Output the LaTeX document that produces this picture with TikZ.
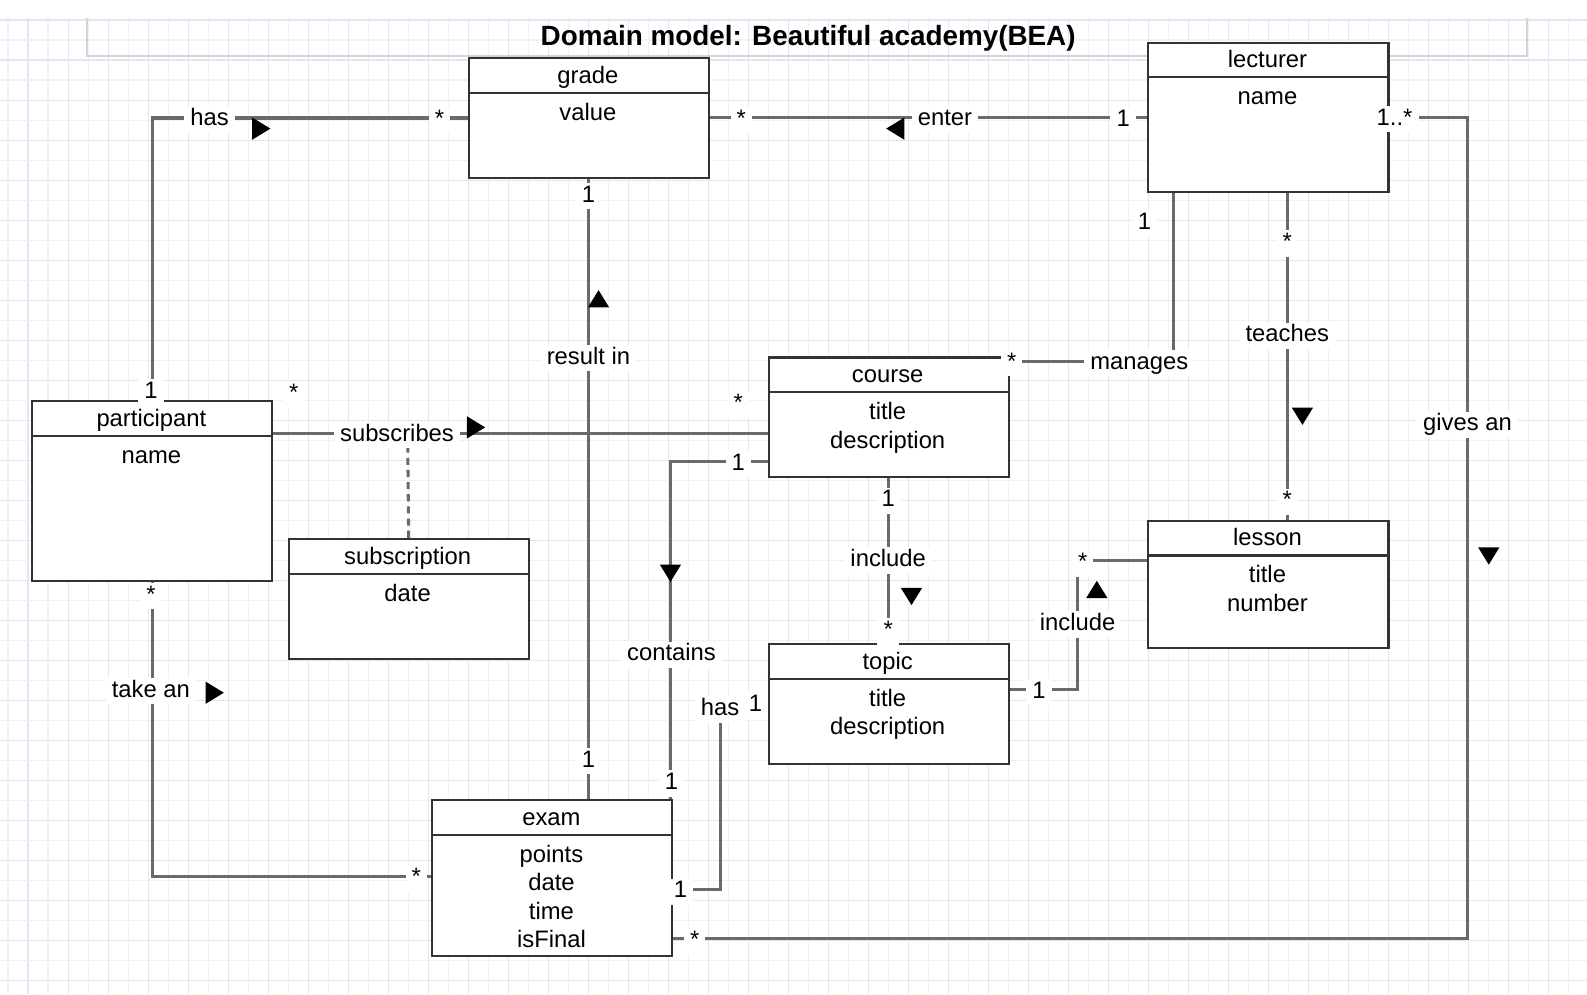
\documentclass[tikz,border=0pt]{standalone}
\usepackage{fontspec}
\setmainfont{Liberation Sans}
\definecolor{boxc}{HTML}{333333}
\definecolor{connc}{HTML}{6A6A6A}
\definecolor{gridA}{HTML}{F1F0FA}
\definecolor{gridB}{HTML}{E6E4F4}
\definecolor{framec}{HTML}{D4D4D4}
\newcommand{\mainfs}{\fontsize{23.5}{28}\selectfont}
\newcommand{\titlefs}{\fontsize{27.5}{32}\selectfont\bfseries}
\newcommand{\umlbox}[6]{%
  \node[clsbox, minimum height=#4, anchor=north west] (#1) at (#2,#3) {};
  \draw[clsline] (#2,{#3+35.5}) -- ({#2+237},{#3+35.5});
  \node[clstext, anchor=base] (#1-name) at ({#2+118.5},{#3+26}) {#5};
  \foreach \attr [count=\idx] in {#6} {
    \node[clstext, anchor=base] (#1-a\idx) at ({#2+118.5},{#3+35.5+27+28*(\idx-1)}) {\attr};
  }
}
\newcommand{\tridn}[2]{\fill[tri] ({#1-10.5},{#2-8.5}) -- ({#1+10.5},{#2-8.5}) -- (#1,{#2+8.5}) -- cycle;}
\newcommand{\triup}[2]{\fill[tri] ({#1-10.5},{#2+8.5}) -- ({#1+10.5},{#2+8.5}) -- (#1,{#2-8.5}) -- cycle;}
\newcommand{\trirt}[2]{\fill[tri] ({#1-9},{#2-11}) -- ({#1-9},{#2+11}) -- ({#1+9},#2) -- cycle;}
\newcommand{\trilt}[2]{\fill[tri] ({#1+9},{#2-11}) -- ({#1+9},{#2+11}) -- ({#1-9},#2) -- cycle;}
\begin{document}
\begin{tikzpicture}[x=1pt,y=-1pt,
  clsbox/.style={draw=boxc, line width=2, fill=white, inner sep=0, minimum width=237},
  clsline/.style={draw=boxc, line width=2},
  clstext/.style={font=\mainfs, inner sep=0, text=black},
  conn/.style={draw=connc, line width=3},
  assocdash/.style={draw=connc, line width=3, dash pattern=on 7pt off 5pt},
  lbl/.style={fill=white, font=\mainfs, text=black, inner xsep=6, inner ysep=2, text height=17, text depth=5, yshift=-1.5pt},
  star/.style={lbl, yshift=-4pt},
  one/.style={lbl, yshift=-1pt},
  tri/.style={fill=black},
  gridmin/.style={draw=gridA, line width=1},
  gridmaj/.style={draw=gridB, line width=1},
  frame/.style={draw=framec, line width=2}]
\useasboundingbox (0,0) rectangle (1567,981.5);
\fill[white] (0,0) rectangle (1567,981.5);
% grid
\foreach \i in {0,2,...,78} \draw[gridmin] ({7.9+19.75*\i},17.8) -- ({7.9+19.75*\i},981.5);
\foreach \i in {1,3,...,79} \draw[gridmaj] ({7.9+19.75*\i},17.8) -- ({7.9+19.75*\i},981.5);
\foreach \k in {2,4,...,48} \draw[gridmin] (0,{19.75*\k}) -- (1567,{19.75*\k});
\foreach \k in {1,3,...,49} \draw[gridmaj] (0,{19.75*\k}) -- (1567,{19.75*\k});
% title frame
\draw[frame] (86,17.8) -- (86,55.3) -- (1508,55.3) -- (1508,17.8);
\node[font=\titlefs, inner sep=0, anchor=base] (title) at (798,45) {Domain model: Beautiful academy(BEA)};
% classes
\umlbox{grade}{462}{56}{119}{grade}{value}
\umlbox{lecturer}{1133}{41}{148}{lecturer}{name}
\umlbox{participant}{31}{395}{178}{participant}{name}
\umlbox{course}{758}{352}{118}{course}{title,description}
\umlbox{subscription}{284}{531}{119}{subscription}{date}
\umlbox{lesson}{1133}{513}{126}{lesson}{title,number}
\umlbox{topic}{758}{635}{118}{topic}{title,description}
\umlbox{exam}{426}{789}{154}{exam}{points,date,time,isFinal}
% connectors
\coordinate (gaC) at (1449,927);
\coordinate (teC) at (1271,0);
\coordinate (mgC) at (1159,357);
\coordinate (sbC) at (402.5,428);
\coordinate (ctC) at (662,456);
\coordinate (i2a) at (1064,681);
\coordinate (i2b) at (1064,553);
\coordinate (h2a) at (711,878);
\coordinate (h2b) at (711,700);
\coordinate (taC) at (149.5,865);
\draw[conn] (participant.north) |- (grade.west);
\draw[conn] (lecturer.west) -- (lecturer.west -| grade.east);
\draw[conn] (lecturer.east) -| (gaC) -- (exam.east |- gaC);
\draw[conn] (lecturer.south -| teC) -- (lesson.north -| teC);
\draw[conn] (lecturer.south -| mgC) -- (mgC) -- (course.east |- mgC);
\draw[conn] (grade.south) -- (exam.north -| grade.south);
\draw[conn] (participant.east |- sbC) -- (course.west |- sbC);
\draw[assocdash] (subscription.north) -- (sbC);
\draw[conn] (course.west |- ctC) -- (ctC) -- (exam.north -| ctC);
\draw[conn] (course.south) -- (topic.north);
\draw[conn] (topic.east |- i2a) -- (i2a) -- (i2b) -- (lesson.west |- i2b);
\draw[conn] (exam.east |- h2a) -- (h2a) -- (h2b) -- (topic.west |- h2b);
\draw[conn] (participant.south) |- (exam.west |- taC);
% association labels
\node[lbl] (l-has) at (207,116) {has};
\node[lbl] (l-enter) at (933,116) {enter};
\node[lbl] (l-gives) at (1449,418) {gives an};
\node[lbl] (l-teaches) at (1271,330) {teaches};
\node[lbl] (l-manages) at (1125,357) {manages};
\node[lbl] (l-result) at (581,352) {result in};
\node[lbl] (l-subscribes) at (392,428) {subscribes};
\node[lbl] (l-contains) at (663,645) {contains};
\node[lbl] (l-include1) at (877,552) {include};
\node[lbl] (l-include2) at (1064,615) {include};
\node[lbl] (l-has2) at (711,699) {has};
\node[lbl] (l-take) at (149,681) {take an};
% multiplicities
\node[one] (m1) at (149,385) {1};
\node[star] (m2) at (434,113) {*};
\node[star] (m3) at (732,113) {*};
\node[one] (m4) at (1109,116) {1};
\node[lbl] (m5) at (1377,116) {1..*};
\node[star] (m6) at (686,924) {*};
\node[star] (m7) at (1271,235) {*};
\node[star] (m8) at (1271,490) {*};
\node[star] (m9) at (999,353) {*};
\node[one] (m10) at (1130,218) {1};
\node[one] (m11) at (581,191) {1};
\node[one] (m12) at (581,749) {1};
\node[star] (m13) at (290,384) {*};
\node[star] (m14) at (729,394) {*};
\node[one] (m15) at (729,456) {1};
\node[one] (m16) at (663,771) {1};
\node[one] (m17) at (877,492) {1};
\node[star] (m18) at (877,618) {*};
\node[one] (m19) at (1026,681) {1};
\node[star] (m20) at (1069,551) {*};
\node[one] (m21) at (746,694) {1};
\node[one] (m22) at (672,878) {1};
\node[star] (m23) at (149,583) {*};
\node[star] (m24) at (411,862) {*};
% direction markers
\trirt{258}{127}
\trilt{884}{127}
\triup{591}{295}
\trirt{470}{422}
\tridn{1286}{411}
\tridn{1470}{549}
\tridn{662}{566}
\tridn{900}{589}
\triup{1083}{582}
\trirt{212}{684}
\end{tikzpicture}
\end{document}
